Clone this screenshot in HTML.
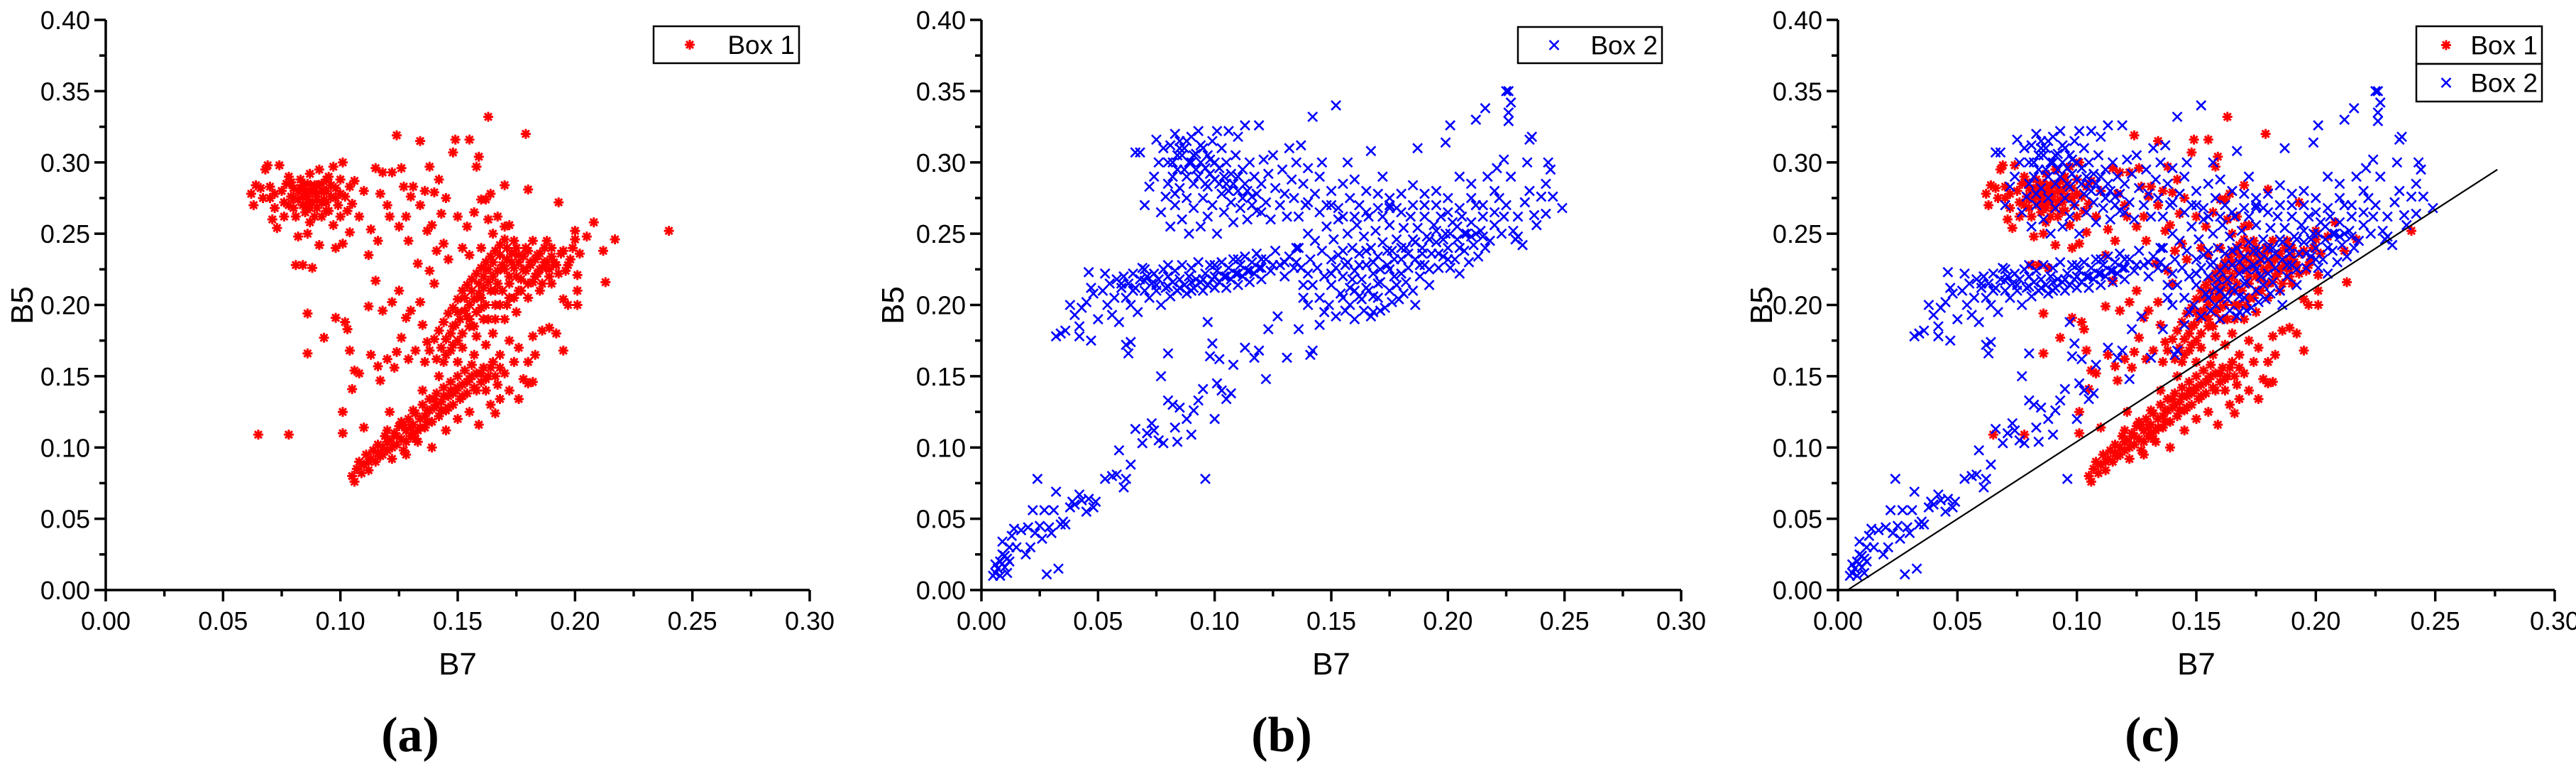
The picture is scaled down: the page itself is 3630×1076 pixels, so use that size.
<!DOCTYPE html>
<html><head><meta charset="utf-8"><style>
html,body{margin:0;padding:0;background:#fff;}
svg{display:block;}
text{font-family:"Liberation Sans",sans-serif;}
</style></head><body>
<svg id="chart" width="3630" height="1076" viewBox="0 0 3630 1076" xmlns="http://www.w3.org/2000/svg"></svg>
<script>
const xTicks=[0,0.05,0.10,0.15,0.20,0.25,0.30];
const yTicks=[0,0.05,0.10,0.15,0.20,0.25,0.30,0.35,0.40];
const xTickLabels=["0.00","0.05","0.10","0.15","0.20","0.25","0.30"];
const yTickLabels=["0.00","0.05","0.10","0.15","0.20","0.25","0.30","0.35","0.40"];
const refLine=[0.004,0,0.276,0.295];
const box1=[
0.062,0.278,0.063,0.270,0.064,0.284,0.066,0.282,0.068,0.295,0.069,0.298,0.070,0.275,0.071,0.260,0.072,0.268,0.073,0.254,0.074,0.298,0.075,0.280,0.076,0.272,0.077,0.285,0.078,0.290,0.079,0.276,0.080,0.268,0.080,0.282,0.081,0.262,0.082,0.274,0.083,0.288,0.084,0.270,0.085,0.280,0.085,0.265,0.086,0.276,0.087,0.292,0.087,0.258,0.088,0.272,0.089,0.284,0.090,0.268,0.090,0.278,0.091,0.295,0.092,0.262,0.092,0.285,0.093,0.274,0.094,0.280,0.095,0.266,0.095,0.290,0.096,0.276,0.097,0.256,0.097,0.297,0.098,0.282,0.099,0.270,0.100,0.288,0.100,0.262,0.101,0.300,0.102,0.276,0.103,0.266,0.104,0.251,0.104,0.283,0.105,0.271,0.106,0.287,0.108,0.262,0.082,0.248,0.084,0.228,0.088,0.226,0.091,0.242,0.086,0.250,0.098,0.240,0.101,0.243,0.083,0.282,0.079,0.286,0.086,0.285,0.088,0.279,0.092,0.272,0.094,0.288,0.089,0.262,0.087,0.268,0.076,0.262,0.067,0.275,
0.110,0.280,0.112,0.235,0.113,0.253,0.115,0.296,0.116,0.245,0.117,0.278,0.118,0.293,0.120,0.270,0.121,0.262,0.122,0.293,0.124,0.319,0.125,0.255,0.126,0.296,0.127,0.283,0.129,0.245,0.130,0.276,0.131,0.283,0.133,0.229,0.134,0.315,0.134,0.270,0.136,0.280,0.138,0.297,0.139,0.256,0.140,0.279,0.142,0.288,0.143,0.264,0.144,0.243,0.145,0.275,0.148,0.307,0.149,0.316,0.150,0.262,0.152,0.240,0.155,0.316,0.157,0.265,0.158,0.297,0.159,0.304,0.160,0.274,0.162,0.274,0.163,0.332,0.164,0.278,0.167,0.262,0.170,0.284,0.172,0.256,0.179,0.320,0.180,0.281,0.137,0.252,0.141,0.238,0.128,0.262,0.146,0.232,0.154,0.255,
0.065,0.109,0.078,0.109,0.081,0.228,0.086,0.194,0.086,0.166,0.093,0.177,0.098,0.191,0.101,0.110,0.101,0.125,0.102,0.188,0.103,0.183,0.104,0.168,0.105,0.141,0.106,0.154,0.108,0.152,0.110,0.114,0.112,0.199,0.113,0.165,0.115,0.217,0.116,0.157,0.117,0.147,0.118,0.196,0.120,0.162,0.121,0.125,0.122,0.202,0.123,0.156,0.124,0.167,0.125,0.210,0.126,0.177,0.128,0.191,0.129,0.162,0.130,0.196,0.132,0.168,0.134,0.202,0.135,0.186,0.137,0.174,0.138,0.224,0.140,0.215,
0.105,0.080,0.106,0.076,0.107,0.085,0.108,0.090,0.109,0.082,0.110,0.088,0.111,0.095,0.112,0.084,0.113,0.092,0.114,0.098,0.115,0.090,0.116,0.102,0.117,0.094,0.118,0.100,0.119,0.108,0.120,0.098,0.121,0.105,0.122,0.092,0.123,0.110,0.124,0.102,0.125,0.115,0.126,0.106,0.127,0.098,0.128,0.112,0.129,0.120,0.130,0.108,0.131,0.116,0.132,0.124,0.133,0.112,0.134,0.120,0.135,0.130,0.136,0.114,0.137,0.126,0.138,0.134,0.139,0.118,0.140,0.128,0.141,0.138,0.142,0.122,0.143,0.132,0.144,0.142,0.145,0.126,0.146,0.136,0.147,0.146,0.148,0.130,0.149,0.140,0.150,0.150,0.151,0.134,0.152,0.144,0.153,0.154,0.154,0.138,0.155,0.148,0.156,0.158,0.157,0.142,0.158,0.152,0.159,0.116,0.160,0.146,0.161,0.156,0.162,0.140,0.163,0.150,0.164,0.130,0.165,0.160,0.166,0.124,0.167,0.144,0.168,0.134,0.170,0.152,0.172,0.140,0.174,0.160,0.176,0.134,0.178,0.148,0.180,0.145,0.182,0.146,0.139,0.100,0.132,0.106,0.128,0.095,0.150,0.120,0.145,0.112,0.155,0.125,0.120,0.112,0.126,0.118,0.135,0.140,0.142,0.150,
0.136,0.160,0.138,0.168,0.140,0.176,0.141,0.162,0.142,0.182,0.143,0.170,0.144,0.188,0.145,0.176,0.146,0.194,0.147,0.180,0.148,0.198,0.149,0.186,0.150,0.204,0.151,0.190,0.152,0.210,0.153,0.196,0.154,0.214,0.155,0.200,0.156,0.218,0.157,0.204,0.158,0.222,0.159,0.208,0.160,0.226,0.161,0.212,0.162,0.230,0.163,0.216,0.164,0.234,0.165,0.220,0.166,0.238,0.167,0.224,0.168,0.242,0.169,0.228,0.170,0.246,0.171,0.232,0.172,0.220,0.173,0.236,0.174,0.226,0.175,0.240,0.176,0.230,0.177,0.218,0.178,0.234,0.179,0.224,0.180,0.238,0.181,0.228,0.182,0.216,0.183,0.232,0.184,0.222,0.185,0.236,0.186,0.226,0.187,0.240,0.188,0.230,0.189,0.220,0.190,0.234,0.192,0.228,0.194,0.236,0.196,0.224,0.198,0.232,0.200,0.246,0.202,0.236,0.205,0.248,0.208,0.258,0.212,0.238,0.213,0.216,0.217,0.246,0.240,0.252,0.193,0.272,0.200,0.252,0.195,0.204,0.197,0.200,0.201,0.221,0.201,0.210,0.201,0.200,0.195,0.168,0.192,0.180,0.189,0.184,0.186,0.182,0.182,0.178,0.183,0.165,0.180,0.160,0.176,0.170,0.172,0.175,0.168,0.165,0.165,0.180,0.162,0.172,0.158,0.178,0.155,0.185,0.150,0.175,0.147,0.168,0.144,0.160,0.150,0.160,0.157,0.165,0.163,0.190,0.168,0.200,0.172,0.205,0.176,0.210,0.166,0.210,0.160,0.198,0.154,0.192,0.148,0.172,0.170,0.190,0.175,0.195,0.180,0.205,0.185,0.210,0.190,0.215,0.160,0.240,0.165,0.250,0.170,0.255,0.155,0.235,0.163,0.260,
0.145,0.165,0.148,0.185,0.150,0.195,0.152,0.180,0.153,0.205,0.155,0.190,0.156,0.210,0.158,0.195,0.159,0.215,0.160,0.205,0.161,0.220,0.162,0.200,0.163,0.225,0.164,0.210,0.165,0.230,0.166,0.200,0.167,0.215,0.168,0.235,0.169,0.210,0.170,0.225,0.171,0.240,0.172,0.215,0.173,0.230,0.174,0.245,0.175,0.220,0.176,0.235,0.177,0.210,0.178,0.225,0.179,0.240,0.180,0.215,0.181,0.230,0.182,0.245,0.183,0.220,0.184,0.235,0.185,0.225,0.186,0.215,0.187,0.230,0.188,0.245,0.189,0.225,0.190,0.240,0.191,0.230,0.193,0.222,0.195,0.238,0.197,0.228,0.199,0.240,0.152,0.170,0.157,0.185,0.161,0.190,0.166,0.190,0.171,0.200,0.174,0.205,
0.112,0.090,0.116,0.096,0.120,0.104,0.124,0.108,0.128,0.104,0.131,0.110,0.134,0.114,0.136,0.122,0.138,0.126,0.140,0.134,0.143,0.126,0.146,0.128,0.148,0.138,0.150,0.142,0.152,0.136,0.154,0.146,0.156,0.150,0.158,0.140,0.160,0.152,0.162,0.148,0.164,0.156,0.166,0.150,0.168,0.156,0.131,0.126,0.127,0.116,0.137,0.118,0.141,0.130,0.144,0.136,0.147,0.140,0.133,0.104,0.118,0.095,0.122,0.100,0.130,0.114,
0.080,0.275,0.082,0.280,0.084,0.276,0.086,0.272,0.088,0.282,0.090,0.274,0.092,0.280,0.094,0.272,0.096,0.284,0.098,0.275,0.100,0.278,0.084,0.284,0.090,0.284,0.086,0.268,0.094,0.266,0.078,0.270,0.072,0.278,0.070,0.283];
const box2=[
0.005,0.010,0.006,0.012,0.007,0.015,0.008,0.010,0.008,0.020,0.009,0.034,0.010,0.024,0.010,0.016,0.011,0.012,0.012,0.020,0.012,0.030,0.013,0.038,0.014,0.043,0.015,0.030,0.017,0.042,0.019,0.025,0.020,0.044,0.021,0.030,0.022,0.056,0.023,0.040,0.024,0.078,0.025,0.045,0.026,0.036,0.027,0.056,0.028,0.011,0.029,0.044,0.030,0.040,0.031,0.056,0.032,0.069,0.033,0.015,0.034,0.046,0.035,0.048,0.036,0.046,0.038,0.058,0.039,0.062,0.040,0.060,0.042,0.067,0.043,0.063,0.045,0.055,0.046,0.064,0.048,0.058,0.049,0.062,0.053,0.078,0.056,0.080,0.058,0.081,0.059,0.098,0.061,0.072,0.062,0.078,0.064,0.088,0.009,0.025,0.011,0.022,0.006,0.018,
0.066,0.113,0.069,0.103,0.071,0.110,0.073,0.117,0.074,0.112,0.076,0.105,0.077,0.150,0.078,0.103,0.080,0.133,0.080,0.166,0.082,0.130,0.083,0.114,0.084,0.104,0.085,0.128,0.088,0.120,0.090,0.109,0.091,0.126,0.093,0.133,0.095,0.141,0.096,0.078,0.097,0.188,0.098,0.164,0.099,0.173,0.100,0.120,0.101,0.145,0.102,0.162,0.103,0.140,0.105,0.134,0.107,0.138,0.108,0.158,0.113,0.170,0.117,0.163,0.119,0.168,0.122,0.148,0.123,0.183,0.127,0.192,0.131,0.163,0.136,0.183,0.141,0.165,0.142,0.168,0.063,0.166,0.062,0.172,0.064,0.174,0.047,0.175,0.042,0.178,0.034,0.180,0.032,0.178,0.036,0.182,
0.038,0.200,0.040,0.193,0.042,0.185,0.043,0.198,0.045,0.202,0.046,0.223,0.047,0.212,0.048,0.208,0.050,0.190,0.052,0.210,0.053,0.222,0.054,0.200,0.055,0.215,0.056,0.193,0.057,0.205,0.058,0.218,0.059,0.188,0.060,0.212,0.061,0.220,0.062,0.205,0.063,0.215,0.064,0.200,0.065,0.222,0.066,0.212,0.067,0.195,0.068,0.218,0.069,0.226,0.070,0.210,0.071,0.220,0.072,0.205,0.073,0.215,0.074,0.222,0.075,0.210,0.076,0.218,0.077,0.200,0.078,0.225,0.079,0.212,0.080,0.220,0.081,0.206,0.082,0.216,0.083,0.224,0.084,0.210,0.085,0.218,0.086,0.228,0.087,0.214,0.088,0.208,0.089,0.220,0.090,0.226,0.091,0.212,0.092,0.218,0.093,0.230,0.094,0.216,0.095,0.210,0.096,0.222,0.097,0.214,0.098,0.228,0.099,0.218,0.100,0.212,0.101,0.224,0.102,0.216,0.103,0.230,0.104,0.220,0.105,0.212,0.106,0.226,0.107,0.218,0.108,0.232,0.109,0.222,0.110,0.214,0.111,0.228,0.112,0.220,0.113,0.234,0.114,0.224,0.115,0.216,0.116,0.230,0.117,0.222,0.118,0.236,0.119,0.226,0.120,0.218,0.122,0.232,0.124,0.224,0.126,0.238,0.128,0.228,0.130,0.220,0.132,0.234,0.134,0.226,0.136,0.240,0.138,0.214,0.140,0.222,0.138,0.205,
0.066,0.307,0.068,0.307,0.070,0.270,0.072,0.283,0.074,0.290,0.075,0.316,0.076,0.300,0.077,0.265,0.078,0.310,0.079,0.276,0.080,0.300,0.081,0.255,0.081,0.312,0.082,0.290,0.083,0.320,0.083,0.270,0.084,0.305,0.085,0.282,0.085,0.315,0.086,0.260,0.087,0.295,0.087,0.310,0.088,0.275,0.089,0.300,0.089,0.250,0.090,0.318,0.091,0.285,0.091,0.268,0.092,0.306,0.093,0.322,0.093,0.290,0.094,0.255,0.095,0.275,0.095,0.310,0.096,0.296,0.097,0.283,0.097,0.262,0.098,0.302,0.099,0.315,0.099,0.270,0.100,0.288,0.101,0.322,0.101,0.250,0.102,0.296,0.103,0.278,0.103,0.310,0.104,0.265,0.105,0.300,0.105,0.285,0.106,0.322,0.107,0.272,0.107,0.292,0.108,0.258,0.109,0.305,0.110,0.280,0.110,0.318,0.111,0.268,0.112,0.295,0.113,0.326,0.113,0.285,0.114,0.260,0.115,0.300,0.116,0.276,0.117,0.290,0.118,0.266,0.119,0.326,0.120,0.285,0.121,0.302,0.122,0.272,0.123,0.292,0.124,0.260,0.125,0.305,0.126,0.282,0.128,0.270,0.129,0.295,0.130,0.278,0.131,0.262,0.132,0.310,0.133,0.288,0.134,0.275,0.135,0.300,0.136,0.262,0.137,0.312,0.138,0.285,0.139,0.270,0.140,0.296,0.142,0.332,0.143,0.278,0.145,0.290,0.146,0.300,0.148,0.270,0.150,0.280,0.152,0.340,0.153,0.268,0.155,0.285,0.157,0.300,0.158,0.275,0.160,0.288,0.162,0.270,0.165,0.280,0.167,0.308,0.170,0.278,0.172,0.290,0.175,0.268,
0.135,0.240,0.137,0.226,0.140,0.250,0.141,0.232,0.142,0.214,0.143,0.245,0.144,0.226,0.145,0.205,0.146,0.238,0.147,0.220,0.148,0.255,0.149,0.200,0.150,0.232,0.150,0.214,0.151,0.246,0.152,0.192,0.152,0.226,0.153,0.260,0.154,0.208,0.155,0.238,0.155,0.220,0.156,0.196,0.157,0.250,0.157,0.230,0.158,0.212,0.159,0.240,0.160,0.190,0.160,0.224,0.161,0.256,0.162,0.206,0.162,0.236,0.163,0.218,0.164,0.196,0.164,0.248,0.165,0.228,0.166,0.210,0.166,0.262,0.167,0.240,0.168,0.195,0.168,0.222,0.169,0.252,0.170,0.205,0.170,0.234,0.171,0.216,0.172,0.262,0.172,0.244,0.173,0.198,0.174,0.228,0.175,0.210,0.175,0.256,0.176,0.238,0.177,0.220,0.178,0.268,0.178,0.246,0.179,0.204,0.180,0.232,0.181,0.254,0.182,0.216,0.182,0.240,0.183,0.226,0.184,0.262,0.185,0.210,0.185,0.246,0.186,0.232,0.187,0.254,0.188,0.220,0.189,0.240,0.190,0.262,0.190,0.228,0.191,0.248,0.192,0.214,0.193,0.236,0.194,0.256,0.195,0.244,0.196,0.226,0.197,0.262,0.198,0.234,0.199,0.250,0.200,0.240,0.201,0.226,0.202,0.258,0.203,0.232,0.204,0.246,0.205,0.222,0.206,0.262,0.207,0.238,0.208,0.250,0.209,0.230,0.210,0.258,0.211,0.242,0.212,0.270,0.213,0.234,0.214,0.252,0.215,0.262,0.216,0.240,0.158,0.200,0.163,0.204,0.167,0.192,0.171,0.196,0.176,0.202,0.181,0.208,0.186,0.200,0.145,0.186,0.140,0.200,0.147,0.195,0.175,0.270,0.180,0.278,0.185,0.284,0.190,0.270,0.195,0.280,0.200,0.275,0.205,0.290,
0.218,0.245,0.220,0.256,0.221,0.296,0.222,0.275,0.223,0.250,0.224,0.262,0.224,0.302,0.225,0.350,0.226,0.329,0.226,0.350,0.227,0.342,0.227,0.290,0.228,0.252,0.229,0.246,0.230,0.248,0.232,0.242,0.233,0.272,0.234,0.300,0.235,0.316,0.236,0.318,0.237,0.263,0.238,0.256,0.240,0.276,0.242,0.264,0.242,0.285,0.243,0.300,0.244,0.295,0.245,0.276,0.249,0.268,0.226,0.335,0.216,0.338,0.212,0.330,0.201,0.326,0.199,0.314,0.187,0.310,0.217,0.290,0.220,0.280,0.210,0.285,
0.082,0.300,0.084,0.295,0.086,0.305,0.088,0.290,0.090,0.300,0.092,0.295,0.094,0.300,0.096,0.285,0.098,0.292,0.100,0.300,0.102,0.285,0.104,0.290,0.106,0.280,0.108,0.285,0.110,0.290,0.112,0.275,0.114,0.280,0.116,0.270,0.118,0.278,0.120,0.265,0.085,0.310,0.088,0.315,0.091,0.305,0.094,0.312,0.097,0.305,0.080,0.285,0.083,0.278,
0.060,0.215,0.065,0.210,0.070,0.217,0.075,0.214,0.080,0.213,0.085,0.212,0.090,0.216,0.095,0.218,0.100,0.220,0.105,0.220,0.110,0.222,0.115,0.224,0.120,0.226,0.125,0.228,0.130,0.230,0.135,0.230,0.070,0.225,0.080,0.228,0.090,0.210,0.100,0.228,0.110,0.232,0.120,0.232,
0.150,0.222,0.153,0.235,0.156,0.228,0.159,0.218,0.162,0.228,0.165,0.238,0.168,0.230,0.171,0.225,0.174,0.238,0.177,0.232,0.180,0.240,0.183,0.236,0.186,0.244,0.189,0.236,0.192,0.246,0.195,0.252,0.198,0.246,0.201,0.250,0.204,0.255,0.207,0.250,0.210,0.248,0.165,0.212,0.170,0.215,0.175,0.225,0.180,0.222,0.160,0.210,0.155,0.205,0.168,0.206,0.178,0.214,0.188,0.228,0.196,0.236,0.205,0.240,0.212,0.250,0.215,0.248,0.200,0.232,0.192,0.225,
0.140,0.272,0.145,0.265,0.150,0.270,0.155,0.262,0.160,0.262,0.165,0.265,0.170,0.268,0.175,0.275,0.180,0.265,0.185,0.270,0.190,0.278,0.195,0.270,0.200,0.265,0.205,0.268,0.210,0.275,0.215,0.270,0.220,0.265,0.225,0.270,0.230,0.262,0.235,0.280];

const NS="http://www.w3.org/2000/svg";
const svg=document.getElementById('chart');
function mk(tag,attrs,parent){const e=document.createElementNS(NS,tag);for(const k in attrs)e.setAttribute(k,attrs[k]);(parent||svg).appendChild(e);return e;}

const panels=[
 {id:'a',x0:149,x1:1141,ylab:31,cap:578,legend:[{x:921,y:37,w:205,h:52,s:'box1',t:'Box 1'}],series:['box1']},
 {id:'b',x0:1383,x1:2369,ylab:1258,cap:1806,legend:[{x:2139,y:38,w:203,h:51,s:'box2',t:'Box 2'}],series:['box2']},
 {id:'c',x0:2590,x1:3600,ylab:2482,cap:3033,legend:[{x:3405,y:37,w:177,h:53,s:'box1',t:'Box 1'},{x:3405,y:90,w:177,h:53,s:'box2',t:'Box 2'}],series:['box1','box2'],line:true}
];
const Y0=831,Y1=28;
const data={box1:box1,box2:box2};
const colors={box1:'#ff0000',box2:'#0000ff'};

function marker(kind,cx,cy,g){
  let d;
  if(kind==='box1'){const r=7,q=5;d=`M${cx-r},${cy}H${cx+r}M${cx},${cy-r}V${cy+r}M${cx-q},${cy-q}L${cx+q},${cy+q}M${cx-q},${cy+q}L${cx+q},${cy-q}`;}
  else {const r=6.5;d=`M${cx-r},${cy-r}L${cx+r},${cy+r}M${cx-r},${cy+r}L${cx+r},${cy-r}`;}
  const p=mk('path',{d:d,stroke:colors[kind],'stroke-width':kind==='box1'?3:2.6,fill:'none'},g);
  return p;
}

panels.forEach(P=>{
  const sx=v=>P.x0+(v/0.30)*(P.x1-P.x0);
  const sy=v=>Y0-(v/0.40)*(Y0-Y1);
  const g=mk('g',{});
  
  
  P.series.forEach(s=>{
    const sg=mk('g',{},g);
    
    
    const arr=data[s];
    for(let i=0;i<arr.length;i+=2){
      const m=marker(s,sx(arr[i]),sy(arr[i+1]),sg);
      
      
    }
  });
  if(P.line){
    const l=mk('line',{x1:sx(refLine[0]),y1:sy(refLine[1]),x2:sx(refLine[2]),y2:sy(refLine[3]),stroke:'#000','stroke-width':2.2},g);
    
    
  }
  const ax=mk('path',{d:`M${P.x0},${Y1}V${Y0}H${P.x1}`,stroke:'#000','stroke-width':3.5,fill:'none'},g);
  
  
  xTicks.forEach((v,i)=>{
    const x=sx(v);
    mk('line',{x1:x,y1:Y0,x2:x,y2:Y0+16,stroke:'#000','stroke-width':3.5},g);
    if(i<xTicks.length-1){const xm=sx(v+0.025);mk('line',{x1:xm,y1:Y0,x2:xm,y2:Y0+9,stroke:'#000','stroke-width':3.5},g);}
    const t=mk('text',{x:x,y:Y0+56,'text-anchor':'middle','font-size':36},g);
    t.textContent=xTickLabels[i];
    
    
  });
  yTicks.forEach((v,i)=>{
    const y=sy(v);
    mk('line',{x1:P.x0-16,y1:y,x2:P.x0,y2:y,stroke:'#000','stroke-width':3.5},g);
    if(i<yTicks.length-1){const ym=sy(v+0.025);mk('line',{x1:P.x0-9,y1:ym,x2:P.x0,y2:ym,stroke:'#000','stroke-width':3.5},g);}
    const t=mk('text',{x:P.x0-22,y:y+13,'text-anchor':'end','font-size':36},g);
    t.textContent=yTickLabels[i];
    
    
  });
  const xt=mk('text',{x:sx(0.15),y:950,'text-anchor':'middle','font-size':44},g);
  xt.textContent='B7';
  
  
  const yt=mk('text',{x:P.ylab,y:430,'text-anchor':'middle','font-size':44,transform:`rotate(-90 ${P.ylab} 430)`,dy:'15'},g);
  yt.textContent='B5';
  
  
  const cp=mk('text',{x:P.cap,y:1058,'text-anchor':'middle','font-size':70,'font-weight':'bold',style:'font-family:"Liberation Serif",serif'},g);
  cp.textContent='('+P.id+')';
  
  
  P.legend.forEach(L=>{
    const lg=mk('g',{},g);
    
    
    mk('rect',{x:L.x,y:L.y,width:L.w,height:L.h,fill:'#fff',stroke:'#000','stroke-width':2.5},lg);
    marker(L.s,L.x+(P.id==='c'?42:51),L.y+L.h/2,lg);
    const tt=mk('text',{x:L.x+L.w-6,y:L.y+L.h/2+13,'text-anchor':'end','font-size':37},lg);
    tt.textContent=L.t;
  });
});
</script>
</body></html>
